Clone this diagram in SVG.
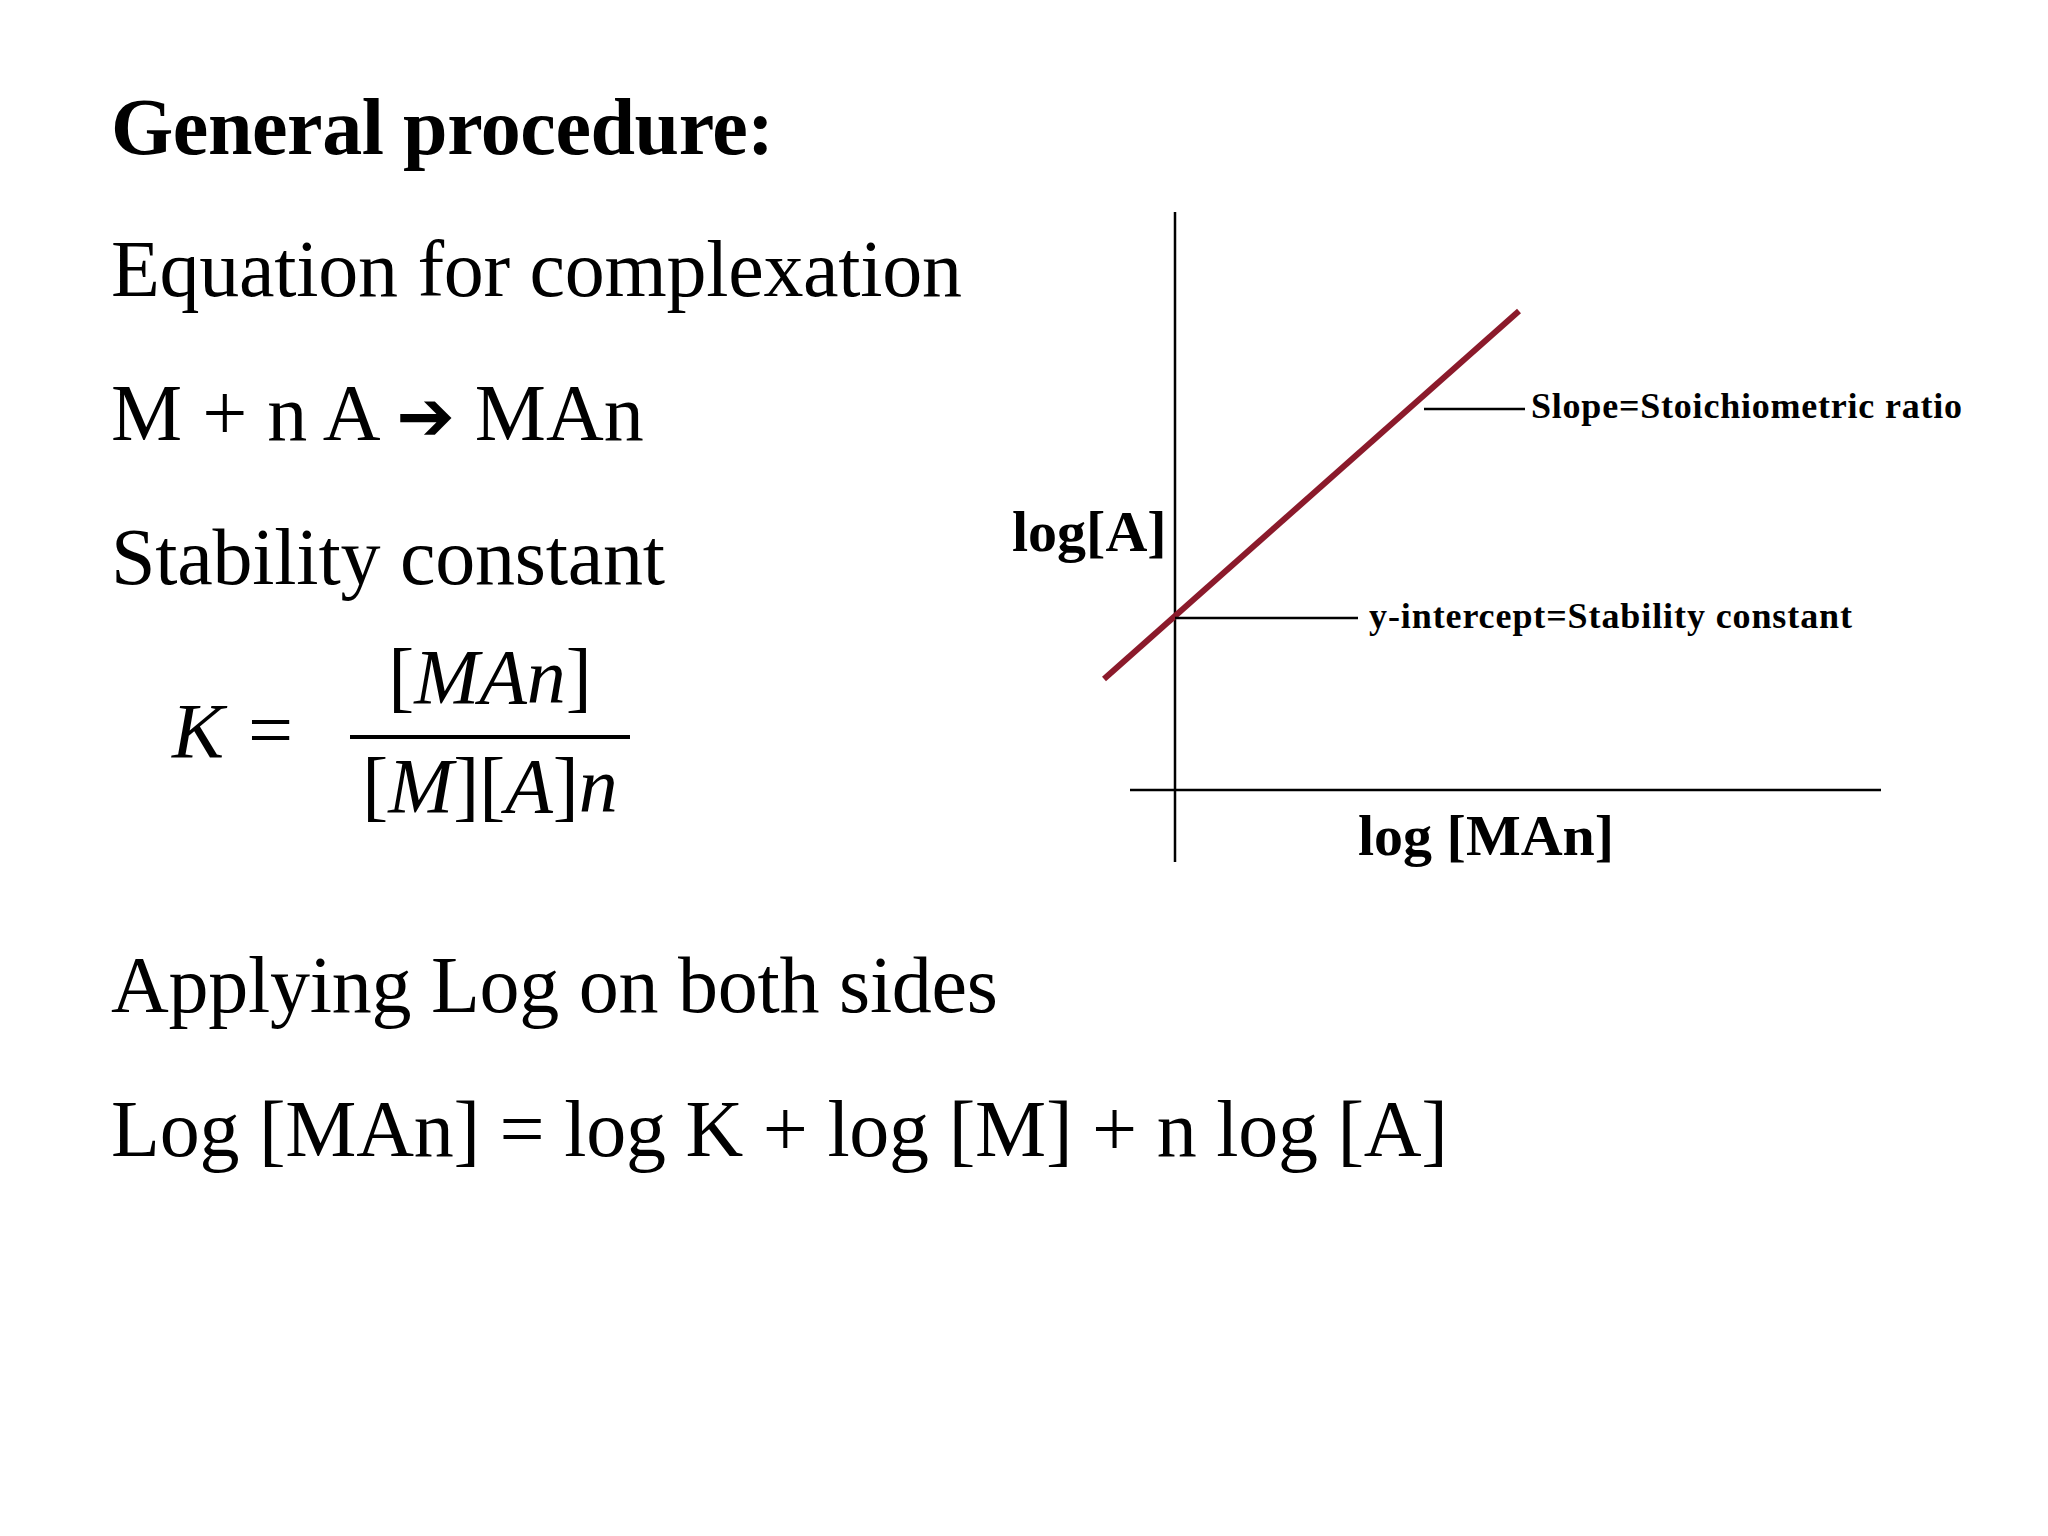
<svg xmlns="http://www.w3.org/2000/svg" width="2048" height="1536" viewBox="0 0 2048 1536">
<style>
.t{font-family:"Liberation Serif","Times New Roman",serif;font-size:80px;fill:#000}
.m{font-family:"Liberation Serif",serif;font-style:italic;font-size:78px;fill:#000}
.u{font-style:normal}
.g{font-family:"Liberation Serif",serif;font-weight:bold;fill:#000}
.ax{stroke:#000;stroke-width:2.5;fill:none}
</style>
<rect width="2048" height="1536" fill="#fff"/>
<g id="text">
<text class="t" x="111" y="154" font-weight="bold" textLength="663">General procedure:</text>
<text class="t" x="111" y="296" textLength="851">Equation for complexation</text>
<text class="t" x="111" y="440">M + n A <tspan font-weight="bold" font-family="DejaVu Sans" font-size="70">➔</tspan> MAn</text>
<text class="t" x="111" y="584" textLength="554">Stability constant</text>
<text class="t" x="111" y="1012" textLength="887">Applying Log on both sides</text>
<text class="t" x="111" y="1156" textLength="1337">Log [MAn] = log K + log [M] + n log [A]</text>
</g>
<g id="formula">
<text class="m" x="172" y="757">K</text>
<text class="t" x="248" y="757">=</text>
<text class="m" x="490" y="703" text-anchor="middle"><tspan class="u">[</tspan>MAn<tspan class="u">]</tspan></text>
<line x1="350" y1="737" x2="630" y2="737" stroke="#000" stroke-width="4"/>
<text class="m" x="490" y="812" text-anchor="middle"><tspan class="u">[</tspan>M<tspan class="u">][</tspan>A<tspan class="u">]</tspan>n</text>
</g>
<g id="graph">
<line class="ax" x1="1175" y1="212" x2="1175" y2="862"/>
<line class="ax" x1="1130" y1="790" x2="1881" y2="790"/>
<line x1="1104" y1="679" x2="1519" y2="311" stroke="#8b1a2b" stroke-width="6"/>
<text class="g" x="1012" y="551" font-size="58">log[A]</text>
<text class="g" x="1358" y="855" font-size="58">log [MAn]</text>
<line class="ax" x1="1424" y1="409" x2="1525" y2="409"/>
<text class="g" x="1531" y="418" font-size="36" textLength="431">Slope=Stoichiometric ratio</text>
<line class="ax" x1="1175" y1="618" x2="1358" y2="618"/>
<text class="g" x="1369" y="628" font-size="36" textLength="483">y-intercept=Stability constant</text>
</g>
</svg>
